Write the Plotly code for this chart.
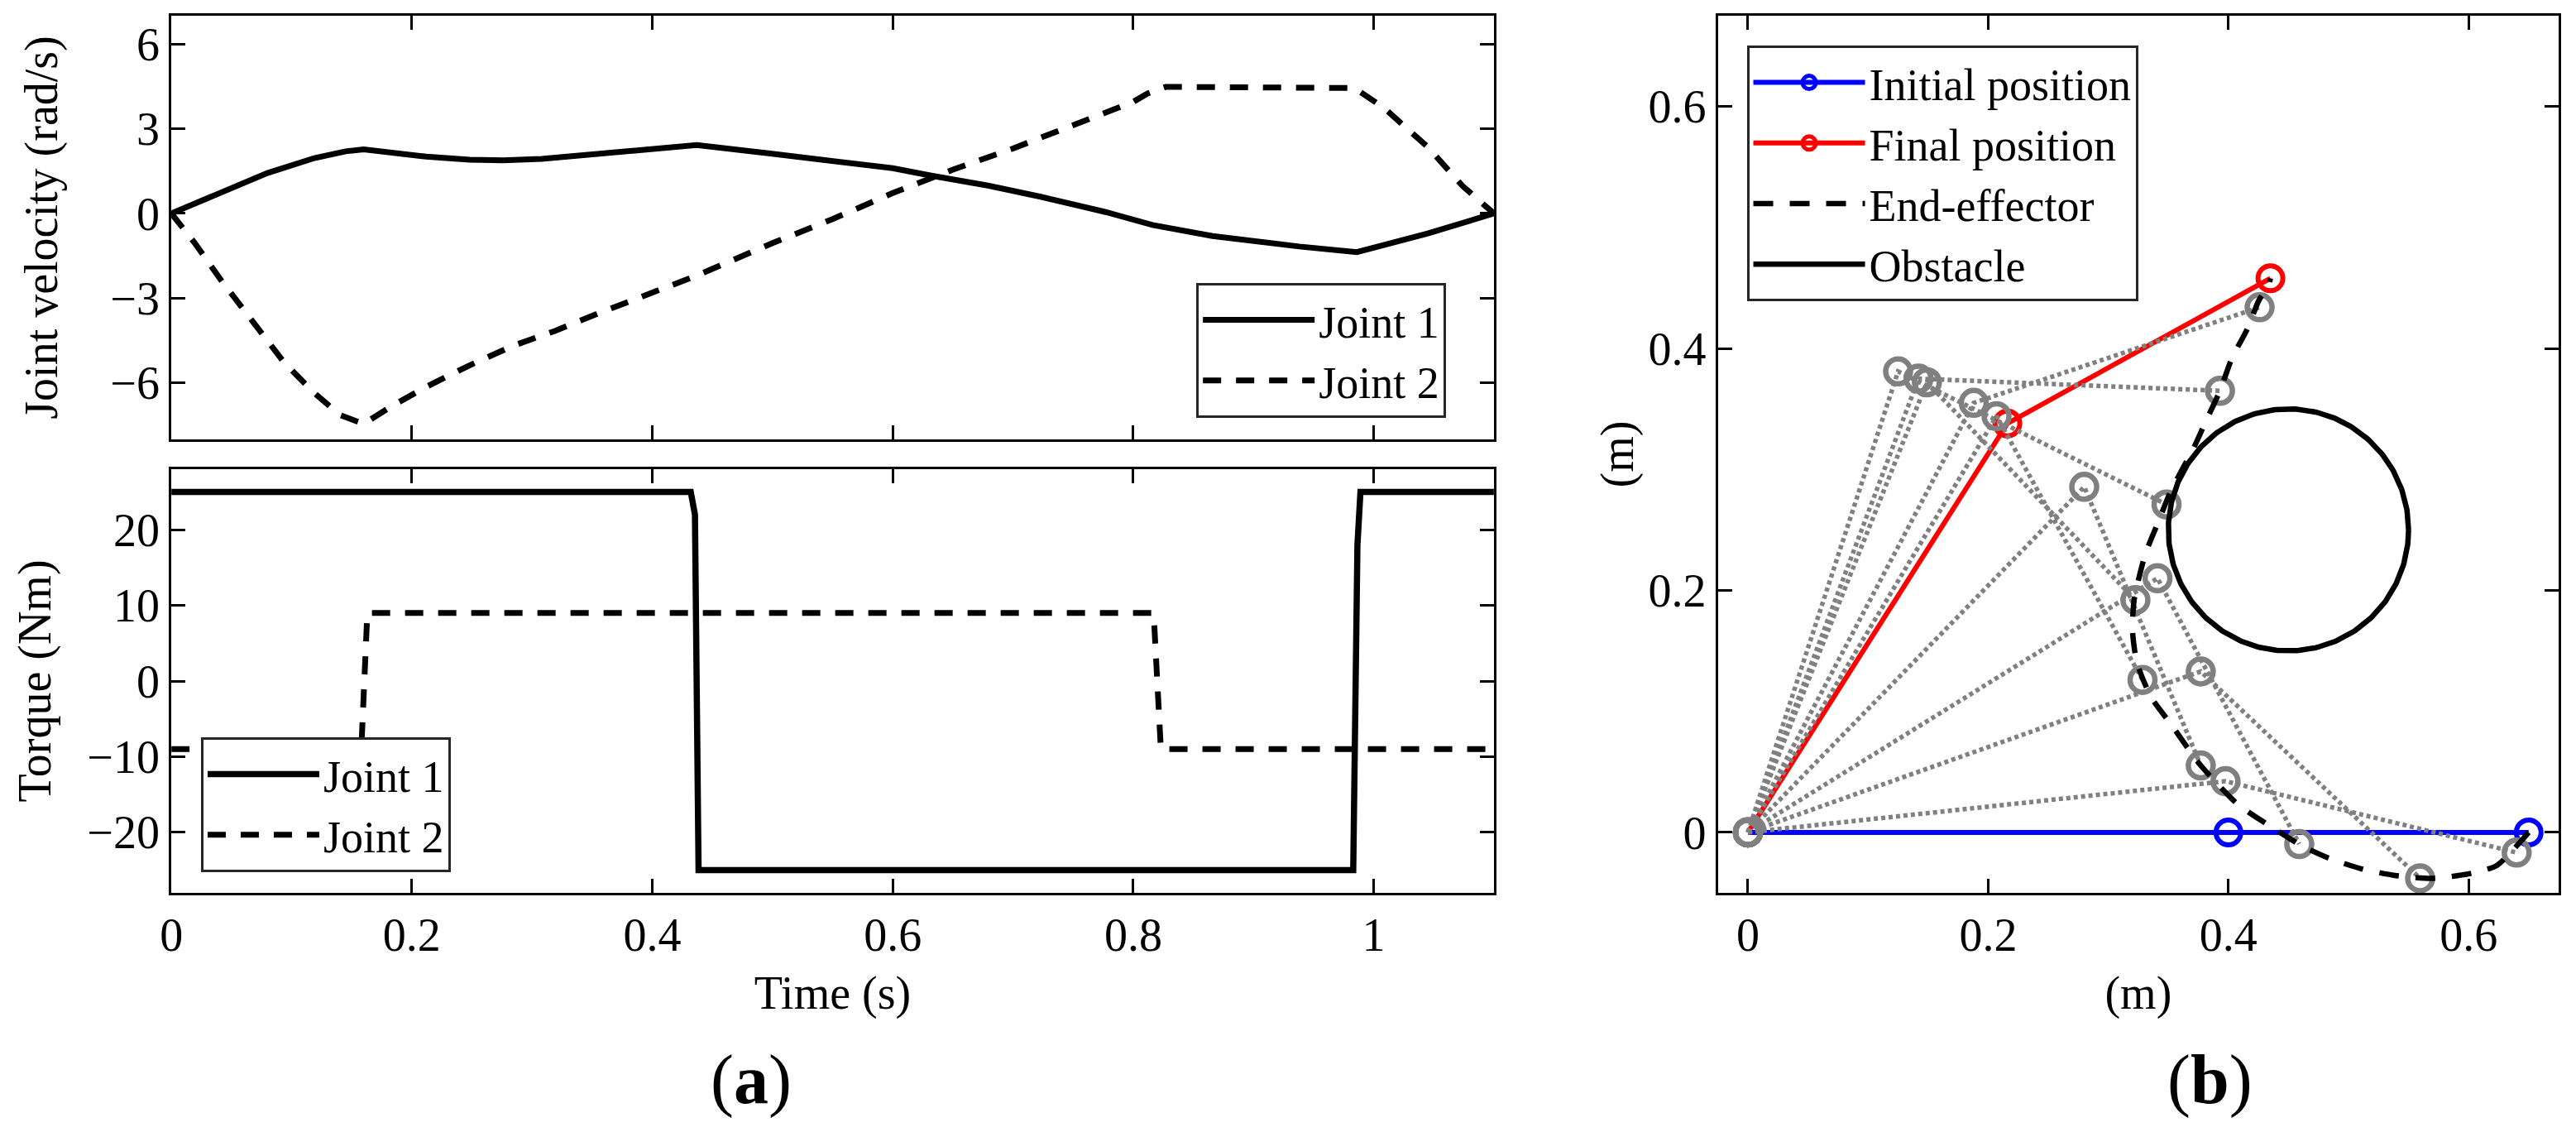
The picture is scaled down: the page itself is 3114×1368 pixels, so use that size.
import numpy as np
import plotly.graph_objects as go

# ---------------- data: panel (a) joint velocities ----------------
t_vel1 = [0, 0.033, 0.08, 0.119, 0.145, 0.16, 0.185, 0.212, 0.248, 0.276, 0.308, 0.355,
          0.398, 0.437, 0.498, 0.544, 0.6, 0.632, 0.68, 0.723, 0.777, 0.816, 0.866,
          0.938, 0.986, 1.045, 1.1]
vel1 = [0, 0.58, 1.43, 1.96, 2.2, 2.27, 2.15, 2.01, 1.9, 1.88, 1.93, 2.1,
        2.26, 2.42, 2.12, 1.9, 1.6, 1.34, 0.98, 0.59, 0.05, -0.41, -0.8,
        -1.17, -1.37, -0.71, 0]

t_vel2 = [0, 0.019, 0.042, 0.069, 0.094, 0.119, 0.14, 0.16, 0.183, 0.212, 0.248, 0.284,
          0.319, 0.355, 0.398, 0.437, 0.5, 0.55, 0.6, 0.65, 0.7, 0.75, 0.8, 0.812,
          0.827, 0.84, 0.9, 0.984, 1.009, 1.045, 1.074, 1.1]
vel2 = [0, -1.02, -2.4, -3.92, -5.29, -6.36, -7.13, -7.45, -6.83, -6.14, -5.38, -4.69,
        -4.16, -3.54, -2.86, -2.2, -1.05, -0.2, 0.72, 1.55, 2.3, 3.1, 3.95, 4.25,
        4.48, 4.48, 4.45, 4.44, 3.72, 2.35, 0.97, 0]

# ---------------- data: panel (a) torques ----------------
t_tau1 = [0, 0.432, 0.4355, 0.4385, 0.983, 0.9865, 0.989, 1.1]
tau1 = [25, 25, 22, -25, -25, 18, 25, 25]
t_tau2 = [0, 0.158, 0.1605, 0.163, 0.817, 0.82, 0.823, 1.1]
tau2 = [-9, -9, 0, 9, 9, 0, -9, -9]

# ---------------- data: panel (b) workspace ----------------
init_x = [0, 0.4, 0.65]
init_y = [0, 0, 0]
final_x = [0, 0.216, 0.435]
final_y = [0, 0.338, 0.458]

elbow_x = [0.3976, 0.377, 0.341, 0.280, 0.207, 0.149, 0.125, 0.142, 0.188]
elbow_y = [0.0423, 0.133, 0.210, 0.2856, 0.344, 0.372, 0.381, 0.375, 0.355]
tip_x = [0.640, 0.5596, 0.459, 0.377, 0.3285, 0.3226, 0.3485, 0.393, 0.426]
tip_y = [-0.0167, -0.038, -0.0097, 0.0553, 0.126, 0.192, 0.271, 0.365, 0.434]

path_x = [0.65, 0.6234, 0.5997, 0.569, 0.5384, 0.511, 0.484, 0.4605, 0.432, 0.4075,
          0.377, 0.352, 0.3355, 0.3238, 0.3202, 0.3215, 0.3308, 0.3414, 0.352, 0.371,
          0.3804, 0.393, 0.4027, 0.4158, 0.4254, 0.4334, 0.435]
path_y = [0, -0.0274, -0.0344, -0.038, -0.0356, -0.0302, -0.0215, -0.0108, 0.0069, 0.0234,
          0.0553, 0.0896, 0.112, 0.1403, 0.1663, 0.192, 0.230, 0.256, 0.282, 0.3175,
          0.338, 0.365, 0.3914, 0.4162, 0.4398, 0.4516, 0.458]

obstacle_center = (0.45, 0.25)
obstacle_radius = 0.1

x_ticks_a = [0, 0.2, 0.4, 0.6, 0.8, 1]
vel_ticks = [-6, -3, 0, 3, 6]
tau_ticks = [-20, -10, 0, 10, 20]
ws_ticks = [0, 0.2, 0.4, 0.6]

# ---------------- figure ----------------
FONT = "Liberation Serif"
FS = 56
LFS = 54
W, H = 3114, 1368

fig = go.Figure()

# velocities
fig.add_trace(go.Scatter(x=t_vel1, y=vel1, mode="lines", name="Joint 1",
                         line=dict(color="black", width=7), xaxis="x", yaxis="y",
                         legend="legend"))
fig.add_trace(go.Scatter(x=t_vel2, y=vel2, mode="lines", name="Joint 2",
                         line=dict(color="black", width=7, dash="22px,18px"),
                         xaxis="x", yaxis="y", legend="legend"))
# torques
fig.add_trace(go.Scatter(x=t_tau1, y=tau1, mode="lines", name="Joint 1",
                         line=dict(color="black", width=7.5), xaxis="x2", yaxis="y2",
                         legend="legend2"))
fig.add_trace(go.Scatter(x=t_tau2, y=tau2, mode="lines", name="Joint 2",
                         line=dict(color="black", width=7, dash="22px,18px"),
                         xaxis="x2", yaxis="y2", legend="legend2"))

# workspace
fig.add_trace(go.Scatter(x=init_x, y=init_y, mode="lines+markers", name="Initial position",
                         line=dict(color="#0000ff", width=6),
                         marker=dict(symbol="circle-open", size=30, color="#0000ff",
                                     line=dict(width=6, color="#0000ff")),
                         xaxis="x3", yaxis="y3", legend="legend3", legendrank=1))
fig.add_trace(go.Scatter(x=final_x, y=final_y, mode="lines+markers", name="Final position",
                         line=dict(color="#ff0000", width=6),
                         marker=dict(symbol="circle-open", size=30, color="#ff0000",
                                     line=dict(width=6, color="#ff0000")),
                         xaxis="x3", yaxis="y3", legend="legend3", legendrank=2))

gx, gy = [], []
for ex, ey, px, py in zip(elbow_x, elbow_y, tip_x, tip_y):
    gx += [0, ex, px, None]
    gy += [0, ey, py, None]
fig.add_trace(go.Scatter(x=gx, y=gy, mode="lines+markers", showlegend=False,
                         line=dict(color="#808080", width=5.5, dash="5px,4px"),
                         marker=dict(symbol="circle-open", size=30, color="#808080",
                                     line=dict(width=6.5, color="#808080")),
                         xaxis="x3", yaxis="y3", hoverinfo="skip"))

fig.add_trace(go.Scatter(x=path_x, y=path_y, mode="lines", name="End-effector",
                         line=dict(color="black", width=6.5, dash="24px,20px",
                                   shape="spline", smoothing=0.6),
                         xaxis="x3", yaxis="y3", legend="legend3", legendrank=3))

ang = np.linspace(0, 2 * np.pi, 361)
fig.add_trace(go.Scatter(x=obstacle_center[0] + obstacle_radius * np.cos(ang),
                         y=obstacle_center[1] + obstacle_radius * np.sin(ang),
                         mode="lines", name="Obstacle",
                         line=dict(color="black", width=6.5),
                         xaxis="x3", yaxis="y3", legend="legend3", legendrank=4))

axis_common = dict(showline=True, linecolor="black", linewidth=3, mirror="ticks",
                   ticks="inside", ticklen=17, tickwidth=3, tickcolor="black",
                   showgrid=False, zeroline=False,
                   tickfont=dict(family=FONT, size=FS, color="black"))

def px2x(p):
    return p / W

def px2y(p):
    return 1 - p / H

xa_dom = [px2x(194), px2x(1800)]
xb_dom = [px2x(2072), px2x(3093)]
ytop_dom = [px2y(531), px2y(19)]
ybot_dom = [px2y(1079), px2y(567)]
yb_dom = [px2y(1079), px2y(19)]

title_font = dict(family=FONT, size=FS, color="black")

legend_common = dict(bgcolor="white", bordercolor="#262626", borderwidth=3,
                     font=dict(family=FONT, size=LFS, color="black"), itemwidth=135,
                     tracegroupgap=0)

fig.update_layout(
    width=W, height=H, margin=dict(l=0, r=0, t=0, b=0),
    paper_bgcolor="white", plot_bgcolor="white",
    font=dict(family=FONT, size=FS, color="black"),
    xaxis=dict(axis_common, domain=xa_dom, range=[0, 1.1], tickvals=x_ticks_a,
               showticklabels=False, anchor="y"),
    yaxis=dict(axis_common, domain=ytop_dom, range=[-8, 7], tickvals=vel_ticks,
               anchor="x", title=dict(text="Joint velocity (rad/s)", font=title_font,
                                      standoff=46)),
    xaxis2=dict(axis_common, domain=xa_dom, range=[0, 1.1], tickvals=x_ticks_a,
                anchor="y2", title=dict(text="Time (s)", font=title_font, standoff=20)),
    yaxis2=dict(axis_common, domain=ybot_dom, range=[-28, 28], tickvals=tau_ticks,
                anchor="x2", title=dict(text="Torque (Nm)", font=title_font, standoff=26)),
    xaxis3=dict(axis_common, domain=xb_dom, range=[-0.025, 0.675], tickvals=ws_ticks,
                anchor="y3", title=dict(text="(m)", font=title_font, standoff=20)),
    yaxis3=dict(axis_common, domain=yb_dom, range=[-0.05, 0.675], tickvals=ws_ticks,
                anchor="x3", title=dict(text="(m)", font=title_font, standoff=0)),
    legend=dict(legend_common, x=px2x(1742), xanchor="right", y=px2y(505),
                yanchor="bottom"),
    legend2=dict(legend_common, x=px2x(230), xanchor="left", y=px2y(1054),
                 yanchor="bottom"),
    legend3=dict(legend_common, x=px2x(2107), xanchor="left", y=px2y(55),
                 yanchor="top", traceorder="normal"),
    annotations=[
        dict(text="(<b>a</b>)", x=px2x(898), y=px2y(1305), xref="paper", yref="paper",
             showarrow=False, font=dict(family=FONT, size=84, color="black"),
             xanchor="center", yanchor="middle"),
        dict(text="(<b>b</b>)", x=px2x(2670), y=px2y(1305), xref="paper", yref="paper",
             showarrow=False, font=dict(family=FONT, size=84, color="black"),
             xanchor="center", yanchor="middle"),
    ],
)

fig.write_html("out.html", config={"displayModeBar": False},
               post_script="document.body.style.margin='0';document.body.style.overflow='hidden';")
